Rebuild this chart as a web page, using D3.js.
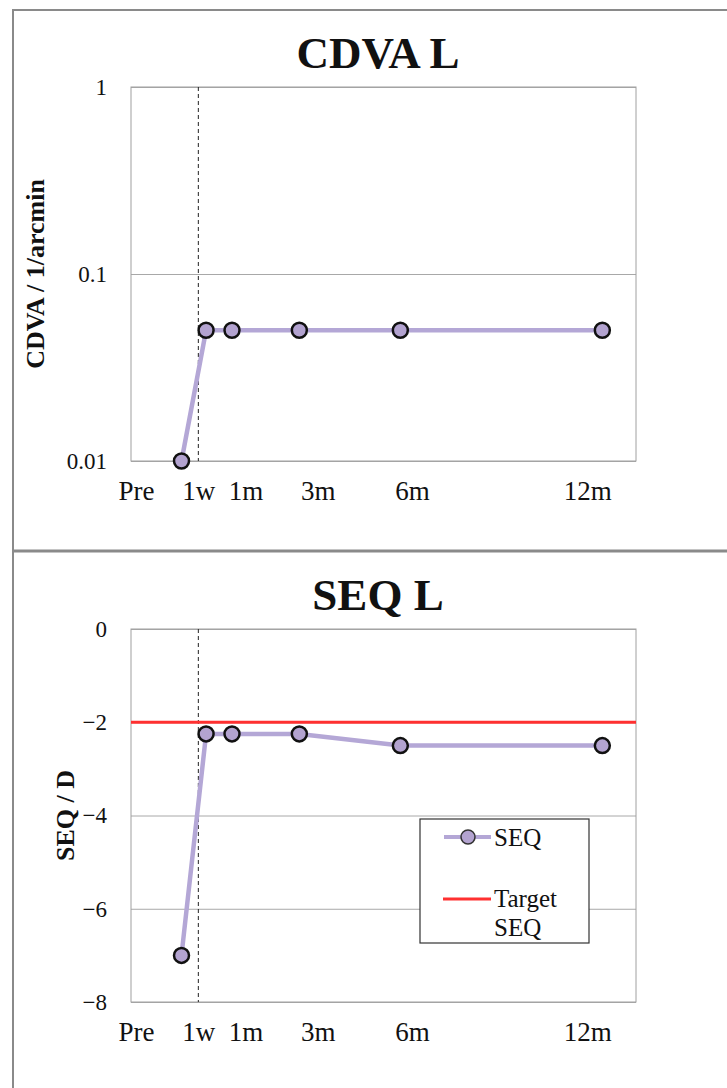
<!DOCTYPE html>
<html>
<head>
<meta charset="utf-8">
<script src="https://cdn.jsdelivr.net/npm/d3@7"></script>
<style>
    body { margin: 0; background: #fff; }
    text { font-family: "Liberation Serif", "DejaVu Serif", serif; fill: #111; }
</style>
</head>
<body>
<svg id="svg"></svg>
<script>
const width = 727;
const height = 1088;

// data
const timeLabels = ["Pre", "1w", "1m", "3m", "6m", "12m"];
const visitMonths = [-0.5, 0.23, 1, 3, 6, 12];      // months after surgery
const labelMonths = [-1.85, 0, 1.4, 3.55, 6.35, 11.55]; // where the tick texts sit
const cdvaValues = [0.01, 0.05, 0.05, 0.05, 0.05, 0.05];
const seqValues = [-7, -2.25, -2.25, -2.25, -2.5, -2.5];
const seqTarget = -2;
const cdvaTicks = [0.01, 0.1, 1];
const seqTicks = [-8, -6, -4, -2, 0];

const lineColour = "#b4a7d6";
const dotColour = "#b3a3d0";
const targetColour = "#ff3030";

let svg = d3.select("#svg")
    .attr("width", width)
    .attr("height", height);

// outer frame and divider
svg.append("line").attr("x1", 12).attr("x2", width).attr("y1", 10).attr("y2", 10)
    .attr("stroke", "#8a8a8a").attr("stroke-width", 2);
svg.append("line").attr("x1", 13).attr("x2", 13).attr("y1", 9).attr("y2", height)
    .attr("stroke", "#8a8a8a").attr("stroke-width", 2);
svg.append("line").attr("x1", 12).attr("x2", width).attr("y1", 551).attr("y2", 551)
    .attr("stroke", "#8a8a8a").attr("stroke-width", 3);

const xScale = d3.scaleLinear().domain([-2, 13]).range([131, 636]);

function drawPanel(top, bottom, yScale, ticks, tickFormat, title, yTitle, yTitleX) {
    const g = svg.append("g");
    const x0 = xScale.range()[0], x1 = xScale.range()[1];

    // gridlines
    g.append("g")
        .attr("transform", `translate(${x0},0)`)
        .call(d3.axisLeft(yScale).tickValues(ticks).tickSize(-(x1 - x0)).tickFormat(""))
        .call(a => a.select(".domain").remove())
        .selectAll("line").attr("stroke", "#a8a8a8");

    // plot frame
    g.append("rect")
        .attr("x", x0).attr("y", top)
        .attr("width", x1 - x0).attr("height", bottom - top)
        .attr("fill", "none").attr("stroke", "#a0a0a0");

    // y tick labels
    g.append("g")
        .attr("transform", `translate(${x0 - 21},0)`)
        .call(d3.axisLeft(yScale).tickValues(ticks).tickSize(0).tickFormat(tickFormat))
        .call(a => a.select(".domain").remove())
        .selectAll("text")
        .style("font-family", "Liberation Serif")
        .style("font-size", "23px")
        .attr("fill", "#222");

    // x tick labels
    g.append("g")
        .attr("transform", `translate(0,${bottom + 17})`)
        .call(d3.axisBottom(xScale).tickValues(labelMonths).tickSize(0)
            .tickFormat((d, i) => timeLabels[i]))
        .call(a => a.select(".domain").remove())
        .selectAll("text")
        .style("font-family", "Liberation Serif")
        .style("font-size", "27px")
        .attr("fill", "#222");

    // surgery marker
    g.append("line")
        .attr("x1", xScale(0)).attr("x2", xScale(0))
        .attr("y1", top).attr("y2", bottom)
        .attr("stroke", "#222").attr("stroke-dasharray", "4,3");

    // title
    g.append("text")
        .attr("x", 378).attr("y", top - 19)
        .attr("text-anchor", "middle")
        .style("font-size", "45px")
        .style("font-weight", "bold")
        .text(title);

    // y title
    g.append("text")
        .attr("transform", `translate(${yTitleX},${(top + bottom) / 2}) rotate(-90)`)
        .attr("text-anchor", "middle")
        .attr("dy", "0.35em")
        .style("font-size", "26px")
        .style("font-weight", "bold")
        .text(yTitle);

    return g;
}

function drawSeries(g, yScale, values) {
    const pts = values.map((v, i) => [xScale(visitMonths[i]), yScale(v)]);
    g.append("path")
        .attr("d", d3.line()(pts))
        .attr("fill", "none")
        .attr("stroke", lineColour)
        .attr("stroke-width", 4.5);
    g.selectAll("circle.dot")
        .data(pts)
        .enter().append("circle")
        .attr("class", "dot")
        .attr("cx", d => d[0]).attr("cy", d => d[1])
        .attr("r", 7.5)
        .attr("fill", dotColour)
        .attr("stroke", "#111")
        .attr("stroke-width", 2.5);
}

// CDVA panel
const yCdva = d3.scaleLog().domain([0.01, 1]).range([461, 87]);
const g1 = drawPanel(87, 461, yCdva, cdvaTicks, d => String(d),
    "CDVA L", "CDVA / 1/arcmin", 35);
drawSeries(g1, yCdva, cdvaValues);

// SEQ panel
const ySeq = d3.scaleLinear().domain([-8, 0]).range([1002, 629]);
const g2 = drawPanel(629, 1002, ySeq, seqTicks, d => d < 0 ? "\u2212" + Math.abs(d) : String(d),
    "SEQ L", "SEQ / D", 65);
g2.append("line")
    .attr("x1", xScale.range()[0]).attr("x2", xScale.range()[1])
    .attr("y1", ySeq(seqTarget)).attr("y2", ySeq(seqTarget))
    .attr("stroke", targetColour).attr("stroke-width", 3);
drawSeries(g2, ySeq, seqValues);

// legend
const legend = g2.append("g");
legend.append("rect")
    .attr("x", 420).attr("y", 819).attr("width", 169).attr("height", 124)
    .attr("fill", "#fff").attr("stroke", "#333").attr("stroke-width", 1.2);
legend.append("line").attr("x1", 444).attr("x2", 491).attr("y1", 837).attr("y2", 837)
    .attr("stroke", lineColour).attr("stroke-width", 4);
legend.append("circle").attr("cx", 468).attr("cy", 837).attr("r", 7)
    .attr("fill", dotColour).attr("stroke", "#333").attr("stroke-width", 1.5);
legend.append("text").attr("x", 494).attr("y", 846).style("font-size", "25px").text("SEQ");
legend.append("line").attr("x1", 443).attr("x2", 491).attr("y1", 899).attr("y2", 899)
    .attr("stroke", targetColour).attr("stroke-width", 3);
legend.append("text").attr("x", 494).attr("y", 907).style("font-size", "25px").text("Target");
legend.append("text").attr("x", 494).attr("y", 936).style("font-size", "25px").text("SEQ");
</script>
</body>
</html>
